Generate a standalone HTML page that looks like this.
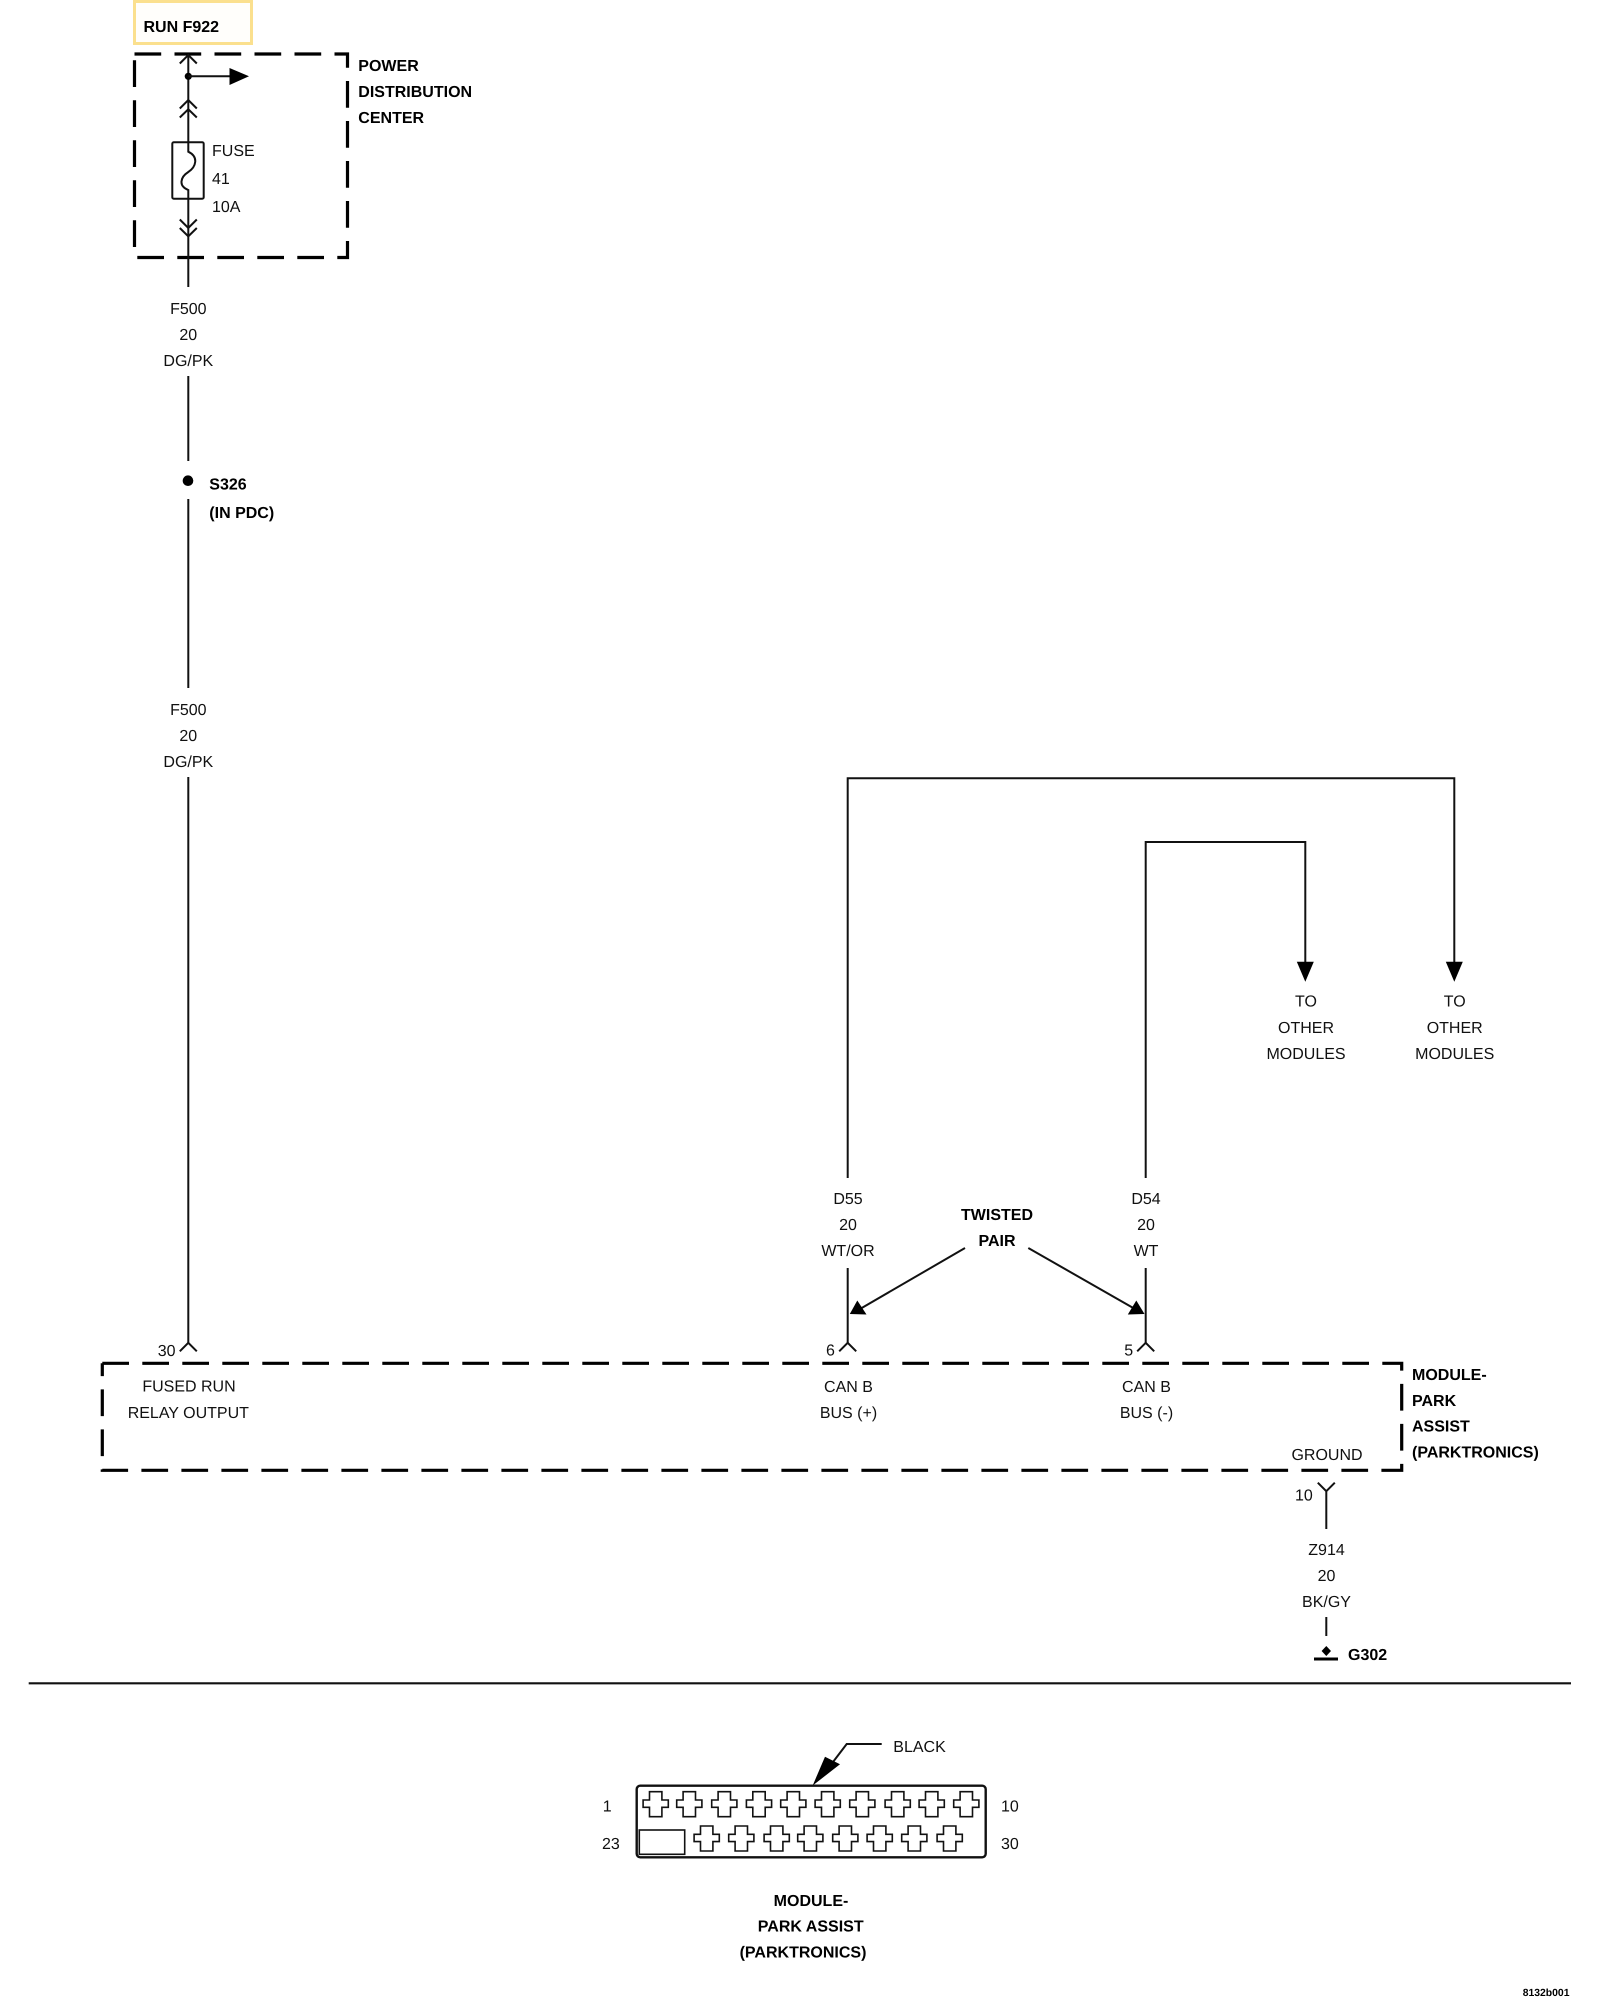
<!DOCTYPE html>
<html>
<head>
<meta charset="utf-8">
<style>
html,body{margin:0;padding:0;background:#fff;}
svg{display:block;}
text{font-family:"Liberation Sans",Arial,sans-serif;font-size:16px;fill:#111;text-rendering:geometricPrecision;}
.b{font-weight:bold;fill:#000;}
.m{text-anchor:middle;}
.w{fill:none;stroke:#111;stroke-width:2;}
.d{fill:none;stroke:#000;stroke-width:3.2;stroke-dasharray:26.7 13.3;}
.f{fill:#000;stroke:none;}
.c{fill:#fff;stroke:#111;stroke-width:1.6;}
</style>
</head>
<body>
<svg xmlns="http://www.w3.org/2000/svg" width="1600" height="2000" viewBox="0 0 1600 2000">
<rect width="1600" height="2000" fill="#fff"/>

<!-- Run label -->
<rect x="134.5" y="1.5" width="117" height="42" fill="#fffefb" stroke="#fbe08e" stroke-width="3"/>
<text class="b" x="143.5" y="32">RUN F922</text>

<!-- Power distribution center -->
<path class="d" d="M134.5 54H347.5V257.5H134.5V54"/>
<text class="b" x="358.3" y="71">POWER</text>
<text class="b" x="358.3" y="97">DISTRIBUTION</text>
<text class="b" x="358.3" y="123">CENTER</text>

<path class="w" d="M188.3 55V151.7C199 157 196 167 188.3 172C180.5 177 178 186 188.3 190V287"/>
<path class="w" d="M179.8 63.5L188.3 55L196.8 63.5"/>
<circle class="f" cx="188.3" cy="76.3" r="3.6"/>
<path class="w" d="M188.3 76.3H232"/>
<path class="f" d="M229.5 68L249 76.3L229.5 85Z"/>
<path class="w" d="M179.8 108.5L188.3 100L196.8 108.5M179.8 117.5L188.3 109.3L196.8 117.5"/>
<rect x="172.3" y="142.3" width="31.4" height="56.4" rx="1.5" fill="none" stroke="#111" stroke-width="2"/>
<path class="w" d="M179.8 219.5L188.3 228L196.8 219.5M179.8 228L188.3 236.3L196.8 228"/>
<text x="212" y="156">FUSE</text>
<text x="212" y="184">41</text>
<text x="212" y="212">10A</text>

<!-- F500 upper -->
<text class="m" x="188.3" y="314">F500</text>
<text class="m" x="188.3" y="340">20</text>
<text class="m" x="188.3" y="366">DG/PK</text>
<path class="w" d="M188.3 376V461"/>
<circle class="f" cx="188" cy="480.7" r="5.3"/>
<text class="b" x="209.3" y="489.3">S326</text>
<text class="b" x="209.3" y="518">(IN PDC)</text>
<path class="w" d="M188.3 499V688"/>
<text class="m" x="188.3" y="715">F500</text>
<text class="m" x="188.3" y="741">20</text>
<text class="m" x="188.3" y="767">DG/PK</text>
<path class="w" d="M188.3 777V1343"/>
<path class="w" d="M179.8 1351.3L188.3 1342.8L196.8 1351.3"/>

<!-- CAN bus wires -->
<path class="w" d="M847.7 1178V778.3H1454.3V965"/>
<path class="f" d="M1445.8 961.7H1462.8L1454.3 981.7Z"/>
<path class="w" d="M1145.7 1178V842H1305.3V965"/>
<path class="f" d="M1296.8 961.7H1313.8L1305.3 981.7Z"/>
<text class="m" x="1306" y="1006.7">TO</text>
<text class="m" x="1306" y="1033">OTHER</text>
<text class="m" x="1306" y="1059">MODULES</text>
<text class="m" x="1454.7" y="1006.7">TO</text>
<text class="m" x="1454.7" y="1033">OTHER</text>
<text class="m" x="1454.7" y="1059">MODULES</text>

<text class="m" x="848" y="1204">D55</text>
<text class="m" x="848" y="1230">20</text>
<text class="m" x="848" y="1256">WT/OR</text>
<text class="m" x="1146" y="1204">D54</text>
<text class="m" x="1146" y="1230">20</text>
<text class="m" x="1146" y="1256">WT</text>
<text class="b m" x="997" y="1220">TWISTED</text>
<text class="b m" x="997" y="1246">PAIR</text>

<path class="w" d="M847.7 1268V1343M1145.7 1268V1343"/>
<path class="w" d="M839.2 1351.3L847.7 1342.8L856.2 1351.3M1137.2 1351.3L1145.7 1342.8L1154.2 1351.3"/>
<path class="w" d="M965 1248L860 1309"/>
<path class="f" d="M849.8 1314L866.5 1314.5L857.3 1300.5Z"/>
<path class="w" d="M1028.3 1248L1135 1309"/>
<path class="f" d="M1144.5 1314L1127.8 1314.5L1136.3 1300.5Z"/>

<text x="157.7" y="1356">30</text>
<text x="826" y="1355.7">6</text>
<text x="1124.3" y="1355.7">5</text>

<!-- Module box -->
<path class="d" d="M102.3 1363.3H1401.7V1470.3H102.3V1363.3"/>
<text class="m" x="189" y="1391.7">FUSED RUN</text>
<text class="m" x="188.3" y="1418">RELAY OUTPUT</text>
<text class="m" x="848.5" y="1392">CAN B</text>
<text class="m" x="848.5" y="1418">BUS (+)</text>
<text class="m" x="1146.5" y="1392">CAN B</text>
<text class="m" x="1146.5" y="1418">BUS (-)</text>
<text class="m" x="1327" y="1460">GROUND</text>
<text class="b" x="1412" y="1380">MODULE-</text>
<text class="b" x="1412" y="1406">PARK</text>
<text class="b" x="1412" y="1431.5">ASSIST</text>
<text class="b" x="1412" y="1457.7">(PARKTRONICS)</text>

<!-- Ground -->
<path class="w" d="M1317.8 1482.7L1326.3 1491.2L1334.8 1482.7M1326.3 1491.2V1529"/>
<text x="1295" y="1500.3">10</text>
<text class="m" x="1326.5" y="1555">Z914</text>
<text class="m" x="1326.5" y="1581">20</text>
<text class="m" x="1326.5" y="1607">BK/GY</text>
<path class="w" d="M1326.3 1617V1636"/>
<path class="f" d="M1326.3 1646L1331 1651L1326.3 1656L1321.6 1651Z"/>
<rect x="1314" y="1657.5" width="24" height="3" fill="#000"/>
<text class="b" x="1348" y="1660">G302</text>

<!-- Divider -->
<path d="M28.7 1683.3H1571" fill="none" stroke="#111" stroke-width="2.2"/>

<!-- Connector -->
<path class="w" d="M881.7 1744H846.7L833 1762"/>
<path class="f" d="M812.7 1785.5L825 1756.7L840 1764.3Z"/>
<text x="893.3" y="1752">BLACK</text>
<rect x="636.7" y="1785.7" width="349" height="71.6" rx="3.5" fill="#fff" stroke="#111" stroke-width="2.4"/>
<g class="c">
<path transform="translate(655.7 1804)" d="M-6.2 -12.3H6.2V-4H12.6V3.3H6.2V12.7H-6.2V3.3H-12.6V-4H-6.2Z"/>
<path transform="translate(689.3 1804)" d="M-6.2 -12.3H6.2V-4H12.6V3.3H6.2V12.7H-6.2V3.3H-12.6V-4H-6.2Z"/>
<path transform="translate(724.3 1804)" d="M-6.2 -12.3H6.2V-4H12.6V3.3H6.2V12.7H-6.2V3.3H-12.6V-4H-6.2Z"/>
<path transform="translate(759 1804)" d="M-6.2 -12.3H6.2V-4H12.6V3.3H6.2V12.7H-6.2V3.3H-12.6V-4H-6.2Z"/>
<path transform="translate(793.3 1804)" d="M-6.2 -12.3H6.2V-4H12.6V3.3H6.2V12.7H-6.2V3.3H-12.6V-4H-6.2Z"/>
<path transform="translate(827.7 1804)" d="M-6.2 -12.3H6.2V-4H12.6V3.3H6.2V12.7H-6.2V3.3H-12.6V-4H-6.2Z"/>
<path transform="translate(862.3 1804)" d="M-6.2 -12.3H6.2V-4H12.6V3.3H6.2V12.7H-6.2V3.3H-12.6V-4H-6.2Z"/>
<path transform="translate(897.7 1804)" d="M-6.2 -12.3H6.2V-4H12.6V3.3H6.2V12.7H-6.2V3.3H-12.6V-4H-6.2Z"/>
<path transform="translate(931.7 1804)" d="M-6.2 -12.3H6.2V-4H12.6V3.3H6.2V12.7H-6.2V3.3H-12.6V-4H-6.2Z"/>
<path transform="translate(966.3 1804)" d="M-6.2 -12.3H6.2V-4H12.6V3.3H6.2V12.7H-6.2V3.3H-12.6V-4H-6.2Z"/>
<path transform="translate(706.7 1838.3)" d="M-6.2 -12.3H6.2V-4H12.6V3.3H6.2V12.7H-6.2V3.3H-12.6V-4H-6.2Z"/>
<path transform="translate(741.3 1838.3)" d="M-6.2 -12.3H6.2V-4H12.6V3.3H6.2V12.7H-6.2V3.3H-12.6V-4H-6.2Z"/>
<path transform="translate(776.7 1838.3)" d="M-6.2 -12.3H6.2V-4H12.6V3.3H6.2V12.7H-6.2V3.3H-12.6V-4H-6.2Z"/>
<path transform="translate(810.3 1838.3)" d="M-6.2 -12.3H6.2V-4H12.6V3.3H6.2V12.7H-6.2V3.3H-12.6V-4H-6.2Z"/>
<path transform="translate(845.3 1838.3)" d="M-6.2 -12.3H6.2V-4H12.6V3.3H6.2V12.7H-6.2V3.3H-12.6V-4H-6.2Z"/>
<path transform="translate(879.7 1838.3)" d="M-6.2 -12.3H6.2V-4H12.6V3.3H6.2V12.7H-6.2V3.3H-12.6V-4H-6.2Z"/>
<path transform="translate(914.3 1838.3)" d="M-6.2 -12.3H6.2V-4H12.6V3.3H6.2V12.7H-6.2V3.3H-12.6V-4H-6.2Z"/>
<path transform="translate(949.7 1838.3)" d="M-6.2 -12.3H6.2V-4H12.6V3.3H6.2V12.7H-6.2V3.3H-12.6V-4H-6.2Z"/>
<rect x="639.3" y="1830" width="45.4" height="24.3"/>
</g>
<text x="602.7" y="1811.7">1</text>
<text x="602" y="1849">23</text>
<text x="1001" y="1811.7">10</text>
<text x="1001" y="1849">30</text>
<text class="b m" x="811" y="1906">MODULE-</text>
<text class="b m" x="810.7" y="1931.3">PARK ASSIST</text>
<text class="b m" x="803" y="1957.3">(PARKTRONICS)</text>

<text class="b" x="1522.7" y="1996" style="font-size:10.4px">8132b001</text>
</svg>
</body>
</html>
